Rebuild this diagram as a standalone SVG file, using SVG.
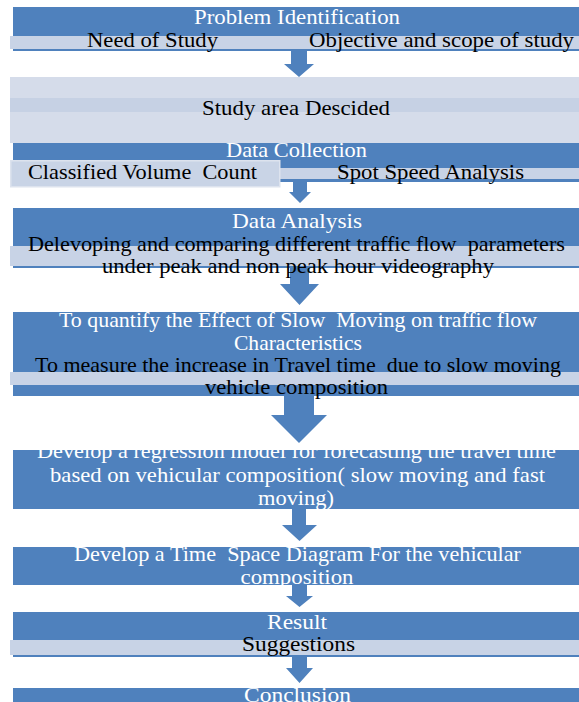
<svg xmlns="http://www.w3.org/2000/svg" width="579" height="702" viewBox="0 0 579 702">
<style>
.box{fill:#4f81bd}
.bar{fill:#c8d3e6}
.pale{fill:#d5dcea}
.band{fill:#c6d1e4}
.sub{fill:#c9d4e6;stroke:#dde3ee;stroke-width:1.5}
.arrow{fill:#4f81bd}
.t{font-family:"Liberation Serif","DejaVu Serif","Times New Roman",serif;font-size:21px;text-anchor:middle}
.w{fill:#ffffff}
.k{fill:#000000}
</style>
<rect width="579" height="702" fill="#ffffff"/>
<g id="connectors">
<polygon class="arrow" points="291,51 307,51 307,64 314,64 299,77 284,64 291,64"/>
<polygon class="arrow" points="293,182 307,182 307,192 311,192 300,203 289,192 293,192"/>
<polygon class="arrow" points="290,268 309,268 309,284 319,284 299.5,305 280,284 290,284"/>
<polygon class="arrow" points="284,396 314,396 314,415 327,415 299,443 271,415 284,415"/>
<polygon class="arrow" points="292,509 306,509 306,525 317,525 299.5,541 282,525 292,525"/>
<polygon class="arrow" points="292,585 307,585 307,596 313,596 299.5,607 286,596 292,596"/>
<polygon class="arrow" points="292,657 307,657 307,668 313,668 299.5,683 286,668 292,668"/>
</g>
<g id="problem-identification">
<rect class="box" x="13" y="7" width="566" height="44"/>
<rect class="bar" x="10" y="36" width="287" height="13"/>
<rect class="bar" x="297" y="36" width="282" height="13"/>
<text class="t w" x="297" y="24" textLength="206" lengthAdjust="spacingAndGlyphs">Problem Identification</text>
<text class="t k" x="152.5" y="47" textLength="131" lengthAdjust="spacingAndGlyphs">Need of Study</text>
<text class="t k" x="441.5" y="47" textLength="265" lengthAdjust="spacingAndGlyphs">Objective and scope of study</text>
</g>
<g id="study-area">
<rect class="pale" x="10" y="77" width="569" height="66"/>
<rect class="band" x="10" y="98" width="569" height="14"/>
<text class="t k" x="296" y="115" textLength="188" lengthAdjust="spacingAndGlyphs">Study area Descided</text>
</g>
<g id="data-collection">
<rect class="box" x="13" y="143" width="566" height="39"/>
<rect class="bar" x="280" y="168" width="299" height="11"/>
<rect class="sub" x="10.75" y="160.75" width="269" height="26"/>
<text class="t w" x="296.5" y="157" textLength="141" lengthAdjust="spacingAndGlyphs">Data Collection</text>
<text class="t k" x="142.5" y="179" textLength="229" lengthAdjust="spacingAndGlyphs" xml:space="preserve">Classified Volume  Count</text>
<text class="t k" x="430.5" y="179" textLength="187" lengthAdjust="spacingAndGlyphs">Spot Speed Analysis</text>
</g>
<g id="data-analysis">
<rect class="box" x="13" y="208" width="566" height="60"/>
<rect class="bar" x="10" y="246" width="569" height="20"/>
<text class="t w" x="297" y="228" textLength="130" lengthAdjust="spacingAndGlyphs">Data Analysis</text>
<text class="t k" x="296.5" y="251" textLength="537" lengthAdjust="spacingAndGlyphs" xml:space="preserve">Delevoping and comparing different traffic flow  parameters</text>
<text class="t k" x="298" y="273" textLength="392" lengthAdjust="spacingAndGlyphs">under peak and non peak hour videography</text>
</g>
<g id="quantify-effect">
<rect class="box" x="13" y="312" width="566" height="84"/>
<rect class="bar" x="10" y="372" width="569" height="13"/>
<text class="t w" x="298" y="327" textLength="478" lengthAdjust="spacingAndGlyphs" xml:space="preserve">To quantify the Effect of Slow  Moving on traffic flow</text>
<text class="t w" x="298" y="350" textLength="128" lengthAdjust="spacingAndGlyphs">Characteristics</text>
<text class="t k" x="298" y="372" textLength="526" lengthAdjust="spacingAndGlyphs" xml:space="preserve">To measure the increase in Travel time  due to slow moving</text>
<text class="t k" x="296.5" y="394" textLength="183" lengthAdjust="spacingAndGlyphs">vehicle composition</text>
</g>
<g id="regression-model">
<rect class="box" x="13" y="450" width="566" height="59"/>
<text class="t w" x="296.5" y="458" textLength="519" lengthAdjust="spacingAndGlyphs">Develop a regression model for forecasting the travel time</text>
<text class="t w" x="297.5" y="482" textLength="495" lengthAdjust="spacingAndGlyphs">based on vehicular composition( slow moving and fast</text>
<text class="t w" x="296" y="505" textLength="76" lengthAdjust="spacingAndGlyphs">moving)</text>
</g>
<g id="time-space-diagram">
<rect class="box" x="13" y="547" width="566" height="38"/>
<text class="t w" x="297.5" y="561" textLength="447" lengthAdjust="spacingAndGlyphs" xml:space="preserve">Develop a Time  Space Diagram For the vehicular</text>
<text class="t w" x="297" y="584" textLength="113" lengthAdjust="spacingAndGlyphs">composition</text>
</g>
<g id="result">
<rect class="box" x="13" y="612" width="566" height="45"/>
<rect class="bar" x="10" y="640" width="569" height="15"/>
<text class="t w" x="297" y="629" textLength="60" lengthAdjust="spacingAndGlyphs">Result</text>
<text class="t k" x="298.5" y="651" textLength="113" lengthAdjust="spacingAndGlyphs">Suggestions</text>
</g>
<g id="conclusion">
<rect class="box" x="13" y="688" width="566" height="14"/>
<text class="t w" x="297.5" y="702" textLength="107" lengthAdjust="spacingAndGlyphs">Conclusion</text>
</g>
</svg>
